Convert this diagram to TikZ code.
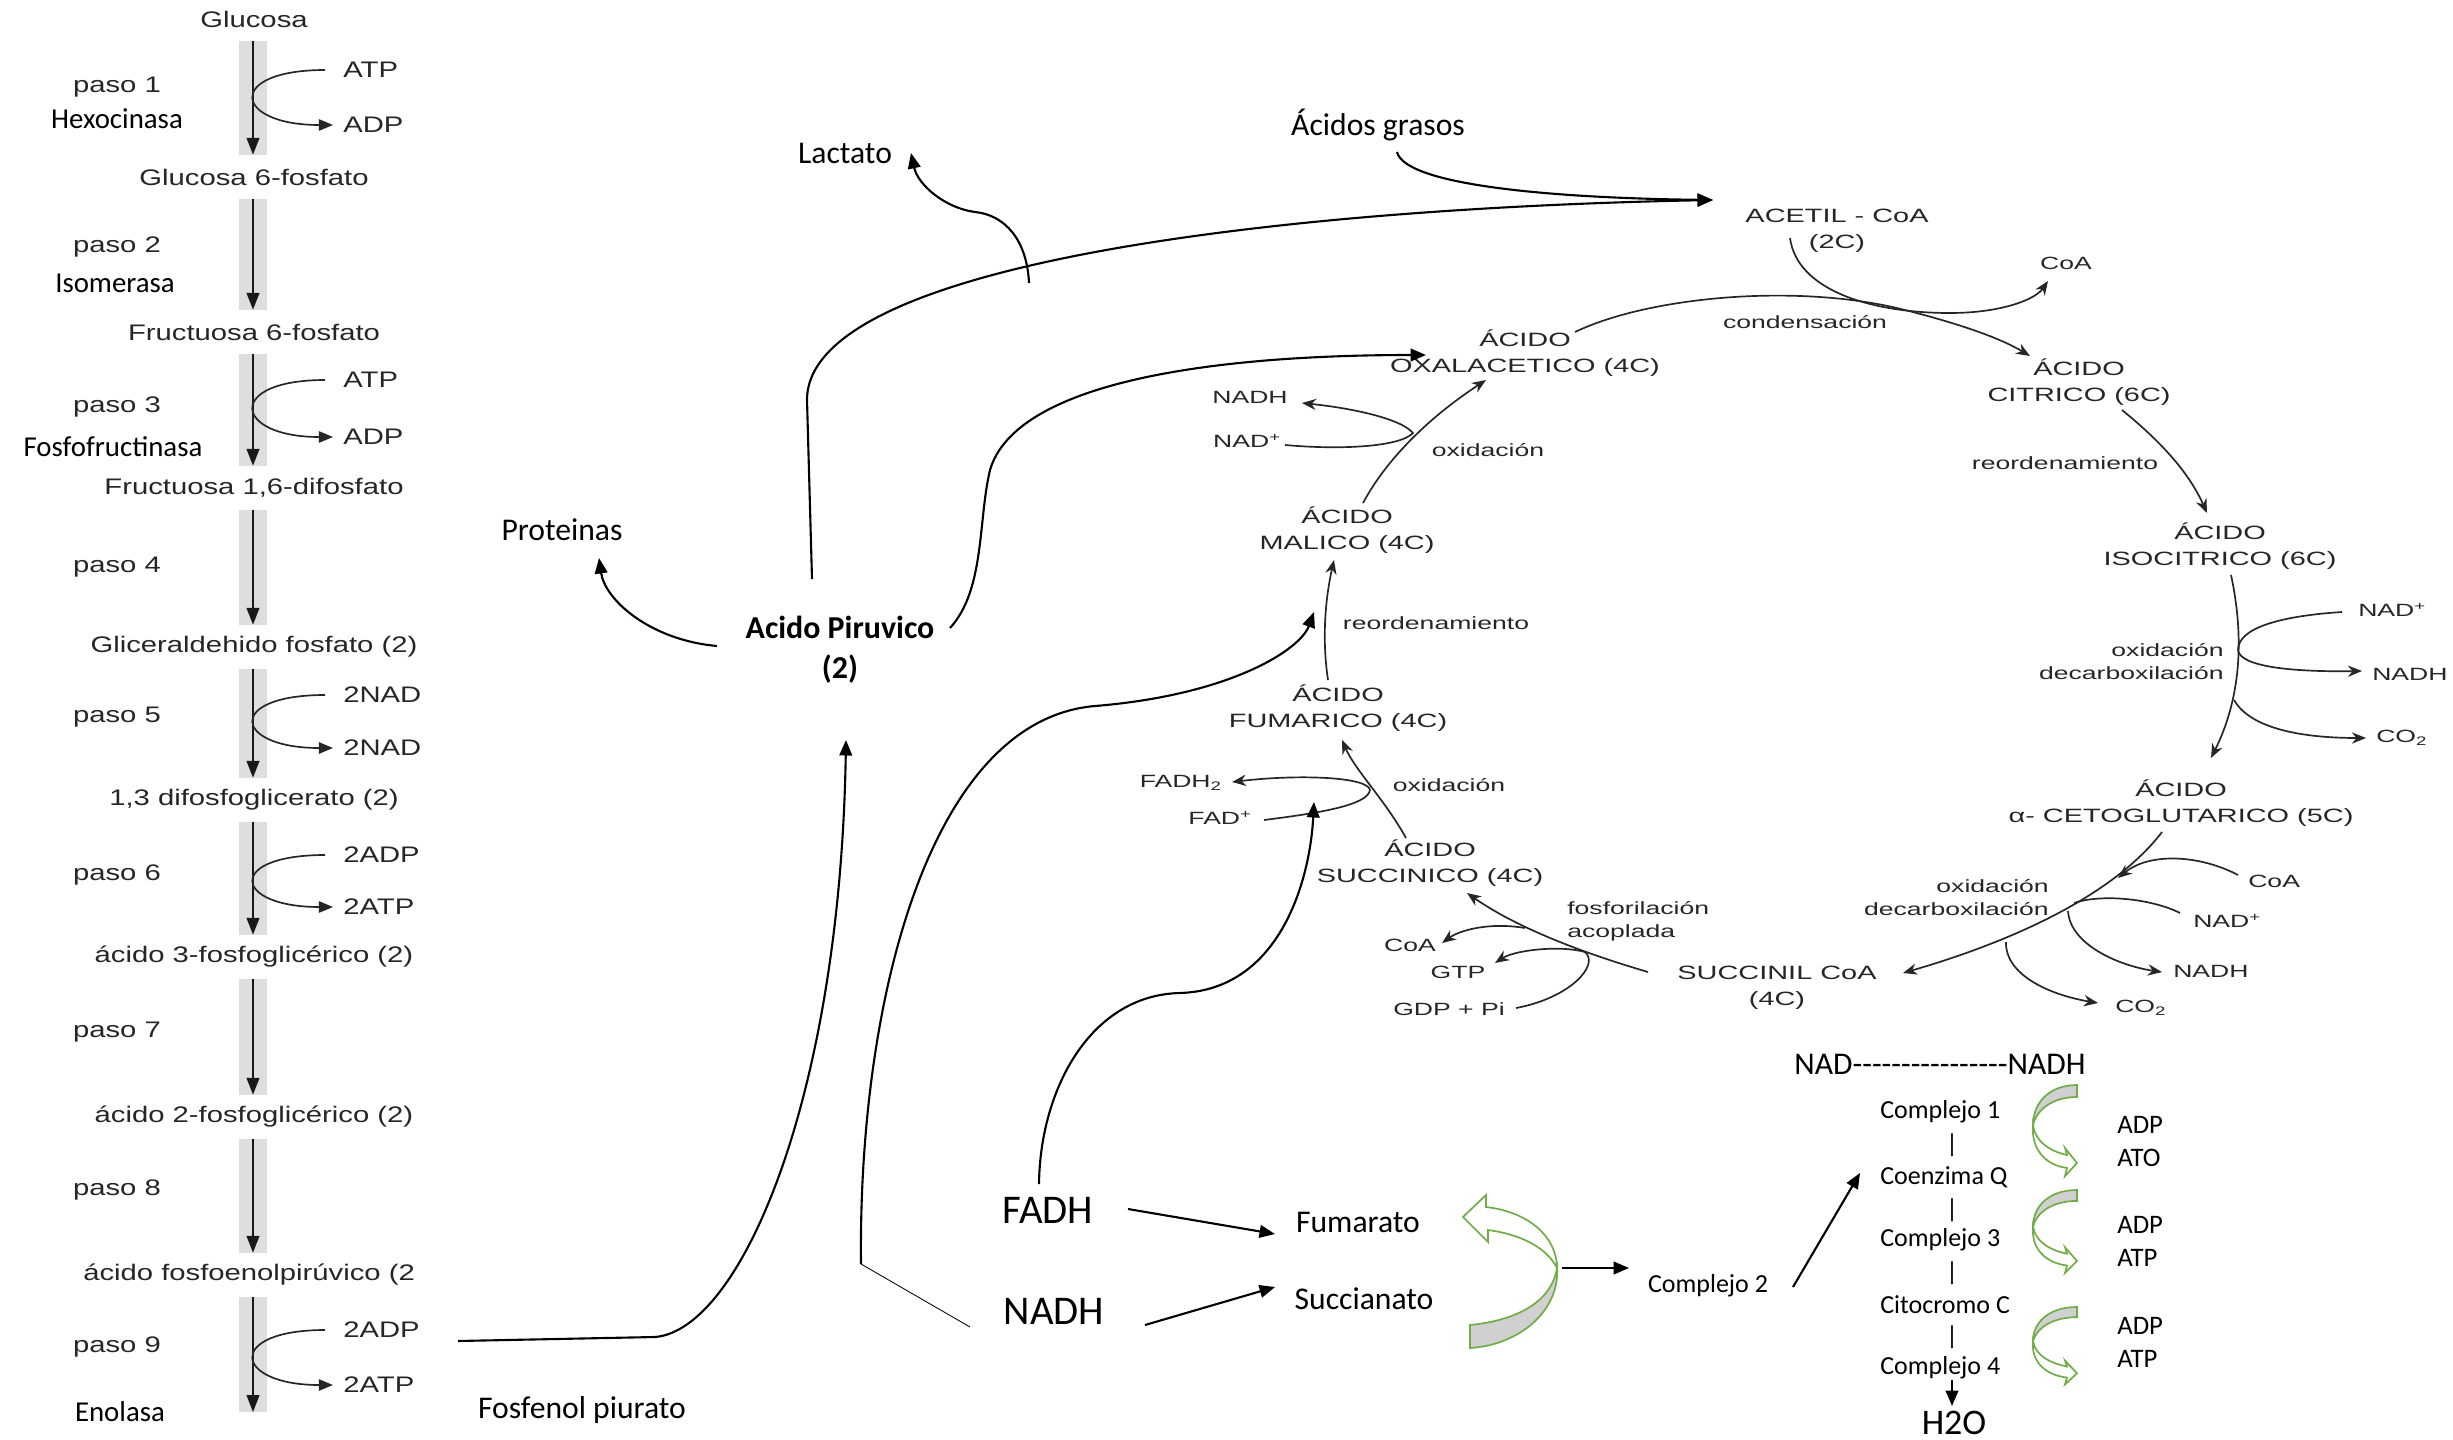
\documentclass[tikz,border=0pt]{standalone}
\usepackage{fontspec}
\setmainfont{Liberation Sans}
\newfontfamily\glyfont[FakeStretch=1.3]{Liberation Sans}
\newfontfamily\krebsfont[FakeStretch=1.5]{Liberation Sans}
\newfontfamily\calfont{Carlito}
\usetikzlibrary{arrows.meta}

\definecolor{tinta}{HTML}{262626}
\definecolor{banda}{HTML}{DEDEDE}
\definecolor{verdeoff}{HTML}{70AD47}
\definecolor{grisflecha}{HTML}{D0D0D0}

% guiones sin ligadura
\newcommand{\guiones}{-\kern0pt-\kern0pt-\kern0pt-\kern0pt-\kern0pt-\kern0pt-\kern0pt-\kern0pt-\kern0pt-\kern0pt-\kern0pt-\kern0pt-\kern0pt-\kern0pt-\kern0pt-\kern0pt}

\tikzset{
  metab/.style={font=\glyfont\fontsize{16}{19}\selectfont, text=tinta, inner sep=0pt, minimum height=1.1cm},
  glyl/.style={font=\glyfont\fontsize{16}{19}\selectfont, text=tinta, inner sep=0pt},
  enzima/.style={font=\calfont\fontsize{20.5}{24}\selectfont, inner sep=0pt},
  bandagly/.style={line width=0.7cm, banda},
  flechagly/.style={line width=1.4pt, black!90, -{Triangle[length=12pt,width=9pt]}},
  lateral/.style={line width=1.2pt, black!85, -{Triangle[length=10pt,width=8pt]}},
  acido/.style={font=\krebsfont\fontsize{13.7}{18.5}\selectfont, text=tinta, align=center, inner sep=0pt},
  nota/.style={font=\krebsfont\fontsize{12.6}{16.4}\selectfont, text=tinta, inner sep=0pt},
  ciclo/.style={line width=1.2pt, tinta, -{Stealth[length=10pt,width=8pt]}},
  ciclo sin/.style={line width=1.2pt, tinta},
  etiqueta/.style={font=\calfont\fontsize{22.5}{27}\selectfont, inner sep=0pt},
  grande/.style={font=\calfont\fontsize{29}{34}\selectfont, inner sep=0pt},
  cadena/.style={font=\calfont\fontsize{18.5}{22}\selectfont, inner sep=0pt},
  atp/.style={font=\calfont\fontsize{19}{23}\selectfont, inner sep=0pt, anchor=west},
  conector/.style={line width=1.5pt, -{Triangle[length=11pt,width=9pt]}},
  verde/.style={draw=verdeoff, line width=1.2pt},
  etcflecha/.pic={
    \filldraw[verde, fill=grisflecha] (0,0) .. controls (-28,0) and (-44,18) .. (-44,40)
      .. controls (-40,24) and (-24,12) .. (0,12) -- cycle;
    \filldraw[verde, fill=white] (-44,40) .. controls (-42,56) and (-28,66) .. (-10,70)
      -- (-12,63) -- (0,78) -- (-12,91) -- (-10,83)
      .. controls (-32,80) and (-46,64) .. (-44,40) -- cycle;
  }
}

\begin{document}
\begin{tikzpicture}[x=0.025cm, y=-0.025cm]
    \useasboundingbox (0,0) rectangle (2453,1440);
    \fill[white] (0,0) rectangle (2453,1440);

    % Glucolisis
    \coordinate (colx) at (253,0);
    \node[metab] (m0) at (254,19) {Glucosa};
    \node[metab] (m1) at (254,177) {Glucosa 6-fosfato};
    \node[metab] (m2) at (254,332) {Fructuosa 6-fosfato};
    \node[metab] (m3) at (254,488) {Fructuosa 1,6-difosfato};
    \node[metab] (m4) at (254,647) {Gliceraldehido fosfato (2)};
    \node[metab] (m5) at (254,800) {1,3 difosfoglicerato (2)};
    \node[metab] (m6) at (254,957) {ácido 3-fosfoglicérico (2)};
    \node[metab] (m7) at (254,1117) {ácido 2-fosfoglicérico (2)};
    \node[metab, anchor=west] (m8) at (83,1275) {ácido fosfoenolpirúvico (2};
    \node[inner sep=0pt] (fin) at (253,1413) {};

    \foreach \a/\b in {m0/m1, m1/m2, m2/m3, m3/m4, m4/m5, m5/m6, m6/m7, m7/m8, m8/fin} {
        \draw[bandagly] (\a.south -| colx) -- (\b.north -| colx);
        \draw[flechagly] (\a.south -| colx) -- (\b.north -| colx);
    }

    \foreach \n/\y in {1/87, 2/247, 3/407, 4/567, 5/717, 6/875, 7/1032, 8/1190, 9/1347}
        \node[glyl] (paso\n) at (117,\y) {paso \n};

    \node[enzima] (hexo) at (117,119) {Hexocinasa};
    \node[enzima] (iso) at (115,283) {Isomerasa};
    \node[enzima] (fosfo) at (113,447) {Fosfofructinasa};
    \node[enzima] (eno) at (120,1412) {Enolasa};

    % Entradas y salidas laterales
    \foreach \i/\ya/\yb/\ta/\tb in {1/70/125/ATP/ADP, 3/380/437/ATP/ADP, 5/695/748/2NAD/2NAD,
                                    6/855/907/2ADP/2ATP, 9/1330/1385/2ADP/2ATP} {
        \node[glyl, anchor=west] (in\i) at (343,\ya) {\ta};
        \node[glyl, anchor=west] (out\i) at (343,\yb) {\tb};
        \draw[lateral] ([xshift=-4.5mm]in\i.west) .. controls +(-100,0) and +(-100,0) .. ([xshift=-2.5mm]out\i.west);
    }

    % Textos del centro
    \node[etiqueta] (lact) at (845,153) {Lactato};
    \node[etiqueta] (grasos) at (1378,125) {Ácidos grasos};
    \node[etiqueta] (prot) at (562,530) {Proteinas};
    \node[etiqueta, font=\calfont\bfseries\fontsize{22.7}{28.5}\selectfont, align=center] (pir) at (840,650) {Acido Piruvico\\(2)};
    \node[etiqueta] (pep) at (582,1410) {Fosfenol piurato};

    % Ciclo de Krebs
    \node[acido] (acetil) at (1837,231) {ACETIL - CoA\\(2C)};
    \node[acido] (oxal) at (1525,353) {ÁCIDO\\OXALACETICO (4C)};
    \node[acido] (citr) at (2079,382) {ÁCIDO\\CITRICO (6C)};
    \node[acido] (isoc) at (2220,546) {ÁCIDO\\ISOCITRICO (6C)};
    \node[acido] (ceto) at (2181,803) {ÁCIDO\\α- CETOGLUTARICO (5C)};
    \node[acido] (succoa) at (1777,988) {SUCCINIL CoA\\(4C)};
    \node[acido] (succ) at (1430,863) {ÁCIDO\\SUCCINICO (4C)};
    \node[acido] (fuma) at (1338,708) {ÁCIDO\\FUMARICO (4C)};
    \node[acido] (mali) at (1347,530) {ÁCIDO\\MALICO (4C)};

    \node[nota] (cond) at (1805,322) {condensación};
    \node[nota] (coa1) at (2066,263) {CoA};
    \node[nota] (reord1) at (2065,463) {reordenamiento};
    \node[nota, anchor=west] (nad1) at (2358,610) {NAD\textsuperscript{+}};
    \node[nota, align=right, anchor=east] (oxd1) at (2224,662) {oxidación\\decarboxilación};
    \node[nota, anchor=west] (nadh1) at (2372,674) {NADH};
    \node[nota, anchor=west] (co21) at (2376,738) {CO\textsubscript{2}};
    \node[nota, anchor=west] (coa2) at (2248,881) {CoA};
    \node[nota, anchor=west] (nad2) at (2193,921) {NAD\textsuperscript{+}};
    \node[nota, align=right, anchor=east] (oxd2) at (2049,898) {oxidación\\decarboxilación};
    \node[nota, anchor=west] (nadh2) at (2173,971) {NADH};
    \node[nota, anchor=west] (co22) at (2115,1008) {CO\textsubscript{2}};
    \node[nota, align=left, anchor=west] (fosf) at (1567,921) {fosforilación\\acoplada};
    \node[nota] (coa3) at (1410,945) {CoA};
    \node[nota] (gtp) at (1458,972) {GTP};
    \node[nota] (gdp) at (1449,1009) {GDP + Pi};
    \node[nota] (oxd3) at (1449,785) {oxidación};
    \node[nota, anchor=east] (fadh2) at (1222,783) {FADH\textsubscript{2}};
    \node[nota, anchor=east] (fad) at (1252,818) {FAD\textsuperscript{+}};
    \node[nota] (reord2) at (1436,623) {reordenamiento};
    \node[nota] (oxd4) at (1488,450) {oxidación};
    \node[nota] (nadh3) at (1250,397) {NADH};
    \node[nota] (nad3) at (1247,441) {NAD\textsuperscript{+}};

    % Puntos de las flechas del ciclo
    \foreach \n/\x/\y in {cond-a/1575/332, cond-m/1905/310, cond-b/2030/356,
        acoa-a/1790/238, acoa-m/1950/313, acoa-b/2048/281,
        cit-a/2122/410, cit-b/2207/513, iso-a/2231/575, iso-b/2211/758,
        iso-nad/2342/612, iso-j/2238/650, iso-nadh/2362/671, iso-c/2234/700, iso-co2/2366/738,
        ceto-a/2162/832, ceto-b/1903/973, ceto-coa/2238/875, ceto-j/2118/878,
        ceto-nad/2180/913, ceto-j2/2074/903, ceto-n/2068/911, ceto-nadh/2162/972,
        ceto-c/2006/942, ceto-co2/2098/1003,
        sc-a/1648/972, sc-b/1467/893, sc-j/1525/928, sc-coa/1442/943,
        sc-gdp/1516/1008, sc-t/1585/952, sc-gtp/1495/963,
        su-a/1406/838, su-b/1342/740, su-fad/1264/820, su-t/1370/790, su-fadh/1232/782,
        fu-a/1328/680, fu-b/1334/560, ma-a/1363/503, ma-b/1486/380,
        ma-nad/1285/445, ma-t/1413/433, ma-nadh/1302/403}
        \coordinate (\n) at (\x,\y);

    \draw[ciclo] (cond-a) .. controls (1650,296) and (1800,283) .. (cond-m) .. controls (1960,324) and (2000,338) .. (cond-b);
    \draw[ciclo] (acoa-a) .. controls (1797,290) and (1870,313) .. (acoa-m) .. controls (2000,313) and (2035,300) .. (acoa-b);
    \draw[ciclo] (cit-a) .. controls (2165,445) and (2190,475) .. (cit-b);
    \draw[ciclo] (iso-a) .. controls (2245,640) and (2240,700) .. (iso-b);
    \draw[ciclo] (iso-nad) .. controls (2280,616) and (2238,628) .. (iso-j) .. controls (2240,668) and (2300,672) .. (iso-nadh);
    \draw[ciclo] (iso-c) .. controls (2250,728) and (2300,738) .. (iso-co2);
    \draw[ciclo] (ceto-a) .. controls (2110,900) and (2000,945) .. (ceto-b);
    \draw[ciclo] (ceto-coa) .. controls (2200,855) and (2150,852) .. (ceto-j);
    \draw[ciclo sin] (ceto-nad) .. controls (2150,898) and (2100,894) .. (ceto-j2);
    \draw[ciclo] (ceto-n) .. controls (2070,945) and (2120,966) .. (ceto-nadh);
    \draw[ciclo] (ceto-c) .. controls (2005,975) and (2050,995) .. (ceto-co2);
    \draw[ciclo] (sc-a) .. controls (1590,955) and (1520,930) .. (sc-b);
    \draw[ciclo] (sc-j) .. controls (1490,922) and (1460,930) .. (sc-coa);
    \draw[ciclo] (sc-gdp) .. controls (1570,998) and (1600,965) .. (sc-t) .. controls (1560,945) and (1515,950) .. (sc-gtp);
    \draw[ciclo] (su-a) .. controls (1385,800) and (1355,770) .. (su-b);
    \draw[ciclo] (su-fad) .. controls (1320,813) and (1368,805) .. (su-t) .. controls (1368,777) and (1300,774) .. (su-fadh);
    \draw[ciclo] (fu-a) .. controls (1322,640) and (1325,600) .. (fu-b);
    \draw[ciclo] (ma-a) .. controls (1385,462) and (1425,420) .. (ma-b);
    \draw[ciclo] (ma-nad) .. controls (1340,450) and (1400,447) .. (ma-t) .. controls (1400,418) and (1350,408) .. (ma-nadh);

    % Cadena respiratoria
    \node[grande] (fadh) at (1048,1210) {FADH};
    \node[grande] (nadh) at (1054,1311) {NADH};
    \node[etiqueta] (fum) at (1358,1222) {Fumarato};
    \node[etiqueta] (suc) at (1364,1299) {Succianato};
    \node[cadena] (c2) at (1708,1286) {Complejo 2};
    \node[etiqueta] (nadnadh) at (1940,1064) {NAD\guiones NADH};
    \node[cadena, anchor=west] (c1) at (1880,1112) {Complejo 1};
    \node[cadena, anchor=west] (cq) at (1880,1177) {Coenzima Q};
    \node[cadena, anchor=west] (c3) at (1880,1240) {Complejo 3};
    \node[cadena, anchor=west] (cc) at (1880,1305) {Citocromo C};
    \node[cadena, anchor=west] (c4) at (1880,1368) {Complejo 4};
    \foreach \y [count=\k] in {1145,1210,1273,1337}
        \node[cadena] (barra\k) at (1952,\y) {|};
    \node[font=\calfont\fontsize{25.6}{30}\selectfont, inner sep=0pt] (agua) at (1954,1423) {H2O};

    \node[atp] (adp1) at (2117,1125) {ADP};
    \node[atp] (ato1) at (2117,1158) {ATO};
    \node[atp] (adp2) at (2117,1225) {ADP};
    \node[atp] (atp2) at (2117,1258) {ATP};
    \node[atp] (adp3) at (2117,1326) {ADP};
    \node[atp] (atp3) at (2117,1359) {ATP};

    \pic at (2077,1085) {etcflecha};
    \pic[yscale=0.91] at (2077,1190) {etcflecha};
    \pic[yscale=0.85] at (2077,1307) {etcflecha};

    % Flecha verde grande
    \filldraw[verde, fill=white] (1486,1207) .. controls (1530,1212) and (1557,1238) .. (1557,1268)
        .. controls (1548,1250) and (1525,1235) .. (1488,1230) -- (1488,1242) -- (1463,1217) -- (1486,1195) -- cycle;
    \filldraw[verde, fill=grisflecha] (1557,1268) .. controls (1560,1310) and (1520,1345) .. (1470,1348)
        -- (1470,1325) .. controls (1520,1320) and (1552,1300) .. (1557,1268) -- cycle;

    % Conectores
    \foreach \n/\x/\y in {pir-a/812/579, pir-v/807/400, acet-in/1713/200, gra-a/1397/152,
        lac-a/1029/283, lac-m/975/212, lac-b/911/153, pro-a/717/646, pro-b/599/558,
        pox-a/950/628, pox-m/990/470, pox-b/1426/355,
        pep-a/458/1341, pep-m/655/1337, pep-b/846/740,
        nadh-a/970/1327, nadh-m/861/1264, nadh-s/1095/706, nadh-b/1314/612,
        fadh-a/1039/1184, fadh-s/1180/993, fadh-b/1314/802,
        ffum-a/1128/1209, ffum-b/1275/1234, nsuc-a/1145/1325, nsuc-b/1275/1287,
        c2in-a/1562/1268, c2in-b/1629/1268, c2-out/1793/1287, cq-in/1860/1173,
        c4-out/1952/1380, agua-in/1952/1406}
        \coordinate (\n) at (\x,\y);

    \draw[conector] (pir-a) -- (pir-v) .. controls (807,260) and (1300,208) .. (acet-in);
    \draw[conector] (gra-a) .. controls (1405,185) and (1550,198) .. (acet-in);
    \draw[conector] (lac-a) .. controls (1027,240) and (1005,215) .. (lac-m) .. controls (945,208) and (918,185) .. (lac-b);
    \draw[conector] (pro-a) .. controls (650,640) and (605,600) .. (pro-b);
    \draw[conector] (pox-a) .. controls (985,590) and (978,520) .. (pox-m) .. controls (1015,385) and (1200,355) .. (pox-b);
    \draw[conector] (pep-a) -- (pep-m) .. controls (740,1330) and (840,1100) .. (pep-b);
    \draw[line width=0.6pt] (nadh-a) -- (nadh-m);
    \draw[conector] (nadh-m) .. controls (858,1000) and (930,720) .. (nadh-s) .. controls (1230,695) and (1300,650) .. (nadh-b);
    \draw[conector] (fadh-a) .. controls (1040,1090) and (1090,995) .. (fadh-s) .. controls (1280,990) and (1310,880) .. (fadh-b);
    \draw[conector] (ffum-a) -- (ffum-b);
    \draw[conector] (nsuc-a) -- (nsuc-b);
    \draw[conector] (c2in-a) -- (c2in-b);
    \draw[conector] (c2-out) -- (cq-in);
    \draw[conector] (c4-out) -- (agua-in);
\end{tikzpicture}
\end{document}
